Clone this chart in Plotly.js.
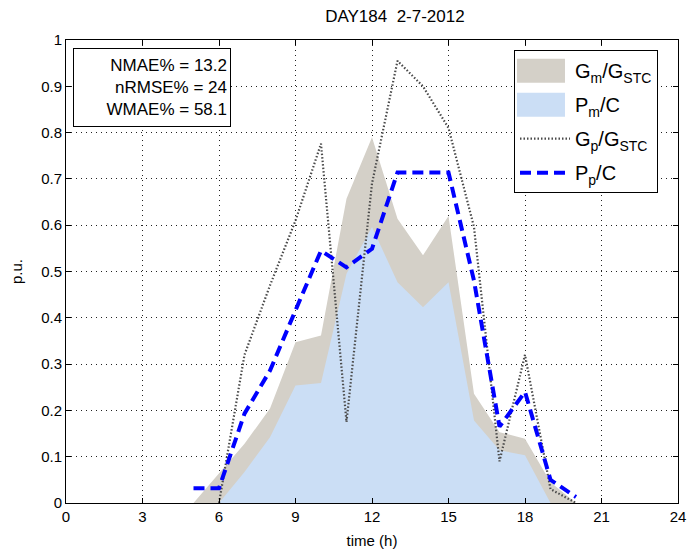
<!DOCTYPE html>
<html>
<head>
<meta charset="utf-8">
<script src="https://cdn.plot.ly/plotly-3.0.1.min.js"></script>
<style>html,body{margin:0;padding:0;background:#fff;}#chart{width:688px;height:556px;}</style>
</head>
<body>
<div id="chart"></div>
<script>
// Measured irradiance (G_m/G_STC) area
const hoursGm = [5, 6, 7, 8, 9, 10, 11, 12, 13, 14, 15, 16, 17, 18, 19, 20];
const valuesGm = [0, 0.063, 0.128, 0.204, 0.347, 0.362, 0.657, 0.79, 0.614, 0.535, 0.62, 0.236, 0.153, 0.139, 0.045, 0];
// Measured power (P_m/C) area
const hoursPm = [6, 7, 8, 9, 10, 11, 12, 13, 14, 15, 16, 17, 18, 19];
const valuesPm = [0, 0.067, 0.142, 0.254, 0.259, 0.495, 0.596, 0.477, 0.423, 0.477, 0.178, 0.114, 0.103, 0];
// Predicted irradiance (G_p/G_STC)
const hoursGp = [6, 7, 8, 9, 10, 11, 12, 13, 14, 15, 16, 17, 18, 19, 20];
const valuesGp = [0, 0.32, 0.47, 0.61, 0.776, 0.175, 0.69, 0.955, 0.9, 0.81, 0.596, 0.09, 0.32, 0.03, 0];
// Predicted power (P_p/C)
const hoursPp = [5, 6, 7, 8, 9, 10, 11, 12, 13, 14, 15, 16, 17, 18, 19, 20];
const valuesPp = [0.032, 0.032, 0.193, 0.286, 0.416, 0.545, 0.509, 0.549, 0.714, 0.714, 0.714, 0.48, 0.165, 0.24, 0.05, 0.013];

const xTicks = [0, 3, 6, 9, 12, 15, 18, 21, 24];
const yTicks = [0, 0.1, 0.2, 0.3, 0.4, 0.5, 0.6, 0.7, 0.8, 0.9, 1];
const yTickText = ['0', '0.1', '0.2', '0.3', '0.4', '0.5', '0.6', '0.7', '0.8', '0.9', '1'];
const legendNames = ['G<sub>m</sub>/G<sub>STC</sub>', 'P<sub>m</sub>/C', 'G<sub>p</sub>/G<sub>STC</sub>', 'P<sub>p</sub>/C'];
const statsLines = ['NMAE% = 13.2', 'nRMSE% = 24', 'WMAE% = 58.1'];
const chartTitle = 'DAY184  2-7-2012';

const FONT = 'Liberation Sans, Arial, sans-serif';

const traces = [
  {x: hoursGm, y: valuesGm, type: 'scatter', mode: 'lines', fill: 'tozeroy', legendgroup: 'a',
   fillcolor: '#d4d0c8', line: {width: 0, color: '#d4d0c8'}, name: legendNames[0]},
  {x: hoursPm, y: valuesPm, type: 'scatter', mode: 'lines', fill: 'tozeroy', legendgroup: 'b',
   fillcolor: '#cbdef5', line: {width: 0, color: '#cbdef5'}, name: legendNames[1]},
  {x: hoursGp, y: valuesGp, type: 'scatter', mode: 'lines', legendgroup: 'c',
   line: {width: 2.2, color: '#4a4a4a', dash: '1.5px,2px'}, name: legendNames[2]},
  {x: hoursPp, y: valuesPp, type: 'scatter', mode: 'lines', legendgroup: 'd',
   line: {width: 4, color: '#0000ff', dash: '11px,6px'}, name: legendNames[3]}
];

const axisCommon = {
  showline: true, linecolor: '#000', linewidth: 1, mirror: 'ticks',
  ticks: 'inside', ticklen: 5, tickcolor: '#000',
  showgrid: true, gridcolor: '#222', gridwidth: 1, griddash: '1px,4px',
  zeroline: false, tickfont: {family: FONT, size: 15, color: '#000'}
};

const layout = {
  width: 688, height: 556,
  margin: {l: 66, r: 10, t: 40, b: 53},
  paper_bgcolor: '#fff', plot_bgcolor: '#fff',
  font: {family: FONT, color: '#000'},
  title: {text: chartTitle, font: {family: FONT, size: 17, color: '#000'}, x: 0.574, xanchor: 'center', y: 0.971, yanchor: 'middle'},
  xaxis: Object.assign({}, axisCommon, {
    range: [0, 24], tickvals: xTicks, ticktext: xTicks.map(String),
    title: {text: 'time (h)', font: {family: FONT, size: 15, color: '#000'}, standoff: 11}
  }),
  yaxis: Object.assign({}, axisCommon, {
    range: [0, 1], tickvals: yTicks, ticktext: yTickText,
    title: {text: 'p.u.', font: {family: FONT, size: 15, color: '#000'}, standoff: 14}
  }),
  showlegend: true,
  legend: {
    x: 0.732, y: 0.978, xanchor: 'left', yanchor: 'top',
    bgcolor: '#fff', bordercolor: '#000', borderwidth: 1,
    font: {family: FONT, size: 20, color: '#000'},
    itemwidth: 50, tracegroupgap: 5
  },
  annotations: [{
    xref: 'paper', yref: 'paper', x: 0.0114, y: 0.983, xanchor: 'left', yanchor: 'top',
    text: statsLines.join('<br>'), align: 'right', showarrow: false,
    font: {family: FONT, size: 17, color: '#000'},
    bgcolor: '#fff', bordercolor: '#000', borderwidth: 1, borderpad: 3,
    width: 150, height: 71
  }]
};

Plotly.newPlot('chart', traces, layout, {displayModeBar: false, staticPlot: true}).then(function (gd) {
  // enlarge the filled legend swatches to MATLAB-like blocks
  gd.querySelectorAll('.legendfill path').forEach(function (p) {
    p.setAttribute('d', 'M2,-12h48v24h-48z');
  });
});
</script>
</body>
</html>
